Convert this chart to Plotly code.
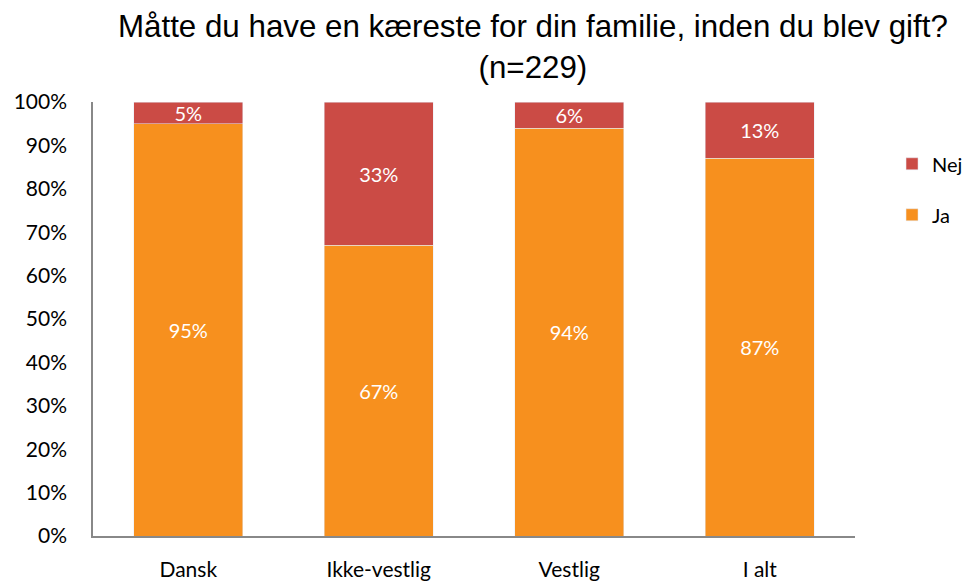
import plotly.graph_objects as go

categories = ["Dansk", "Ikke-vestlig", "Vestlig", "I alt"]
ja = [95, 67, 94, 87]
nej = [5, 33, 6, 13]
tick_vals = [0, 10, 20, 30, 40, 50, 60, 70, 80, 90, 100]
tick_text = [f"{v}%" for v in tick_vals]
title_text = "Måtte du have en kæreste for din familie, inden du blev gift?<br>(n=229)"

fnt = "Lato, Open Sans, sans-serif"

fig = go.Figure()
fig.add_trace(go.Bar(x=categories, y=ja, name="Ja", marker_color="#F7901E",
                     legendgroup="b", legendrank=2,
                     text=[f"{v}%" for v in ja], textposition="inside",
                     insidetextanchor="middle",
                     textfont=dict(color="white", size=20, family=fnt)))
fig.add_trace(go.Bar(x=categories, y=nej, name="Nej", marker_color="#CB4B45",
                     legendgroup="a", legendrank=1,
                     text=[f"{v}%" for v in nej], textposition="inside",
                     insidetextanchor="middle",
                     textfont=dict(color="white", size=20, family=fnt)))

fig.add_annotation(text=title_text, xref="paper", yref="paper",
                   x=0.5774, y=1.126, xanchor="center", yanchor="middle",
                   showarrow=False, align="center",
                   font=dict(family="Liberation Sans, Arial", size=31.3, color="black"))

fig.update_layout(
    barmode="stack",
    bargap=0.43,
    width=963, height=575,
    margin=dict(l=85, r=116, t=94, b=47, autoexpand=False),
    plot_bgcolor="white", paper_bgcolor="white",
    legend=dict(xref="container", yref="container", x=0.918, y=0.763,
                xanchor="left", yanchor="top",
                traceorder="grouped", font=dict(family=fnt, size=20, color="black"),
                tracegroupgap=22, bgcolor="rgba(0,0,0,0)"),
    uniformtext=dict(minsize=20, mode="show"),
)
fig.update_xaxes(showline=True, linecolor="#888888", linewidth=1.5,
                 tickfont=dict(family=fnt, size=21, color="black"), ticks="",
                 showgrid=False, ticklabelstandoff=14, automargin=False)
fig.update_yaxes(range=[0, 100], tickvals=tick_vals, ticktext=tick_text,
                 showline=True, linecolor="#888888", linewidth=1.5,
                 tickfont=dict(family=fnt, size=21, color="black"), ticks="",
                 showgrid=False, ticklabelstandoff=20, automargin=False)

fig.write_html("out.html")
